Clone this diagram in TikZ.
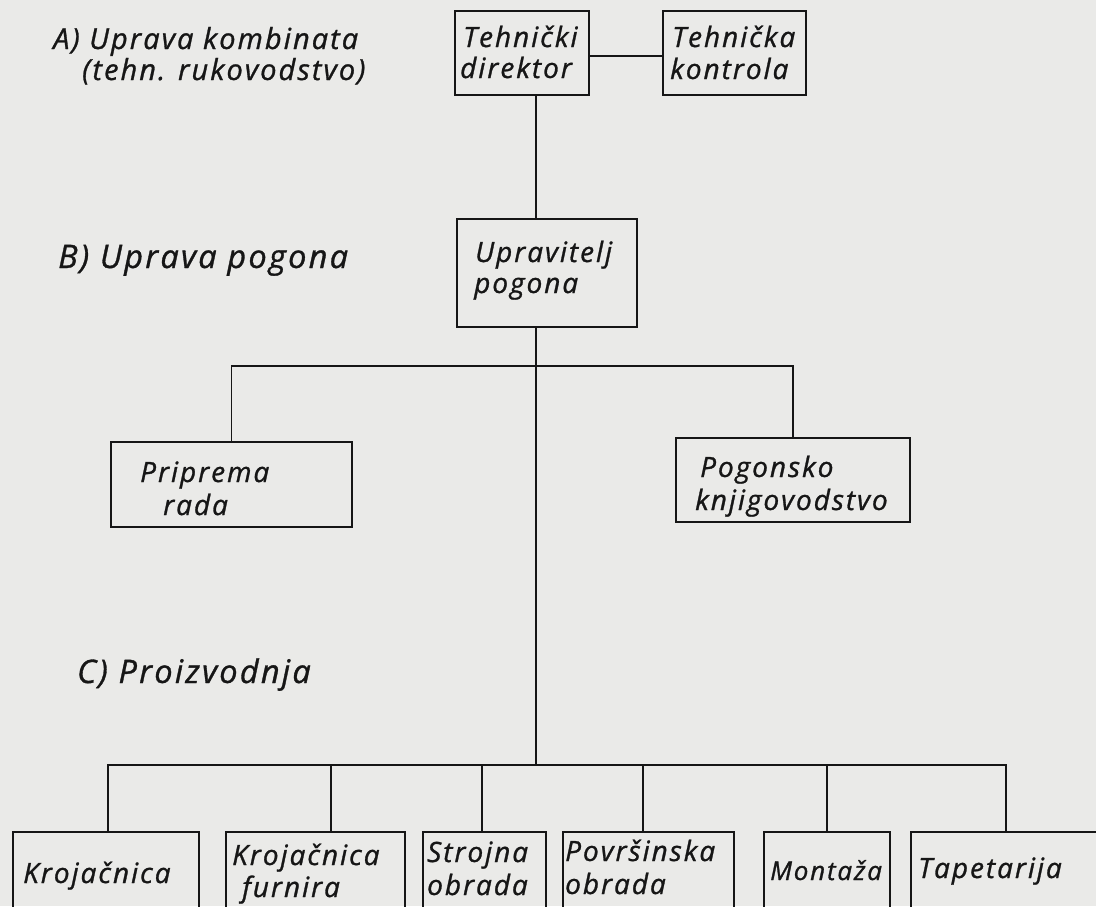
\documentclass[tikz,border=0pt]{standalone}
\usepackage{fontspec}
\setmainfont{Open Sans}
\newfontfamily\hand{Open Sans}[LetterSpace=7,FakeBold=1]
\definecolor{paper}{RGB}{234,234,232}
\definecolor{ink}{RGB}{22,22,22}
\begin{document}
\begin{tikzpicture}[x=1pt,y=-1pt,
  box/.style={draw=ink, line width=2.6pt, rectangle, inner sep=0pt},
  conn/.style={draw=ink, line width=1.6pt},
  lbl/.style={text=ink, inner sep=0pt, anchor=base west, font=\hand\itshape\fontsize{28}{30}\selectfont},
  lbla/.style={text=ink, inner sep=0pt, anchor=base west, font=\hand\itshape\fontsize{29}{32}\selectfont},
  lvl/.style={text=ink, inner sep=0pt, anchor=base west, font=\hand\itshape\fontsize{32.5}{35}\selectfont}]
\useasboundingbox (0,0) rectangle (1096,906);
\fill[paper] (0,0) rectangle (1096,906);
\clip (0,0) rectangle (1096,906);

% level labels
\node[lbla] (la1) at (53,49) {A) Uprava kombinata};
\node[lbla] (la2) at (82,80) {(tehn. rukovodstvo)};
\node[lvl] (lb) at (58,268) {B) Uprava pogona};
\node[lvl] (lc) at (77,683) {C) Proizvodnja};

% boxes
\node[box, minimum width=134pt, minimum height=84pt] (td) at (522,53) {};
\node[box, minimum width=143pt, minimum height=84pt] (tk) at (734.5,53) {};
\node[box, minimum width=180pt, minimum height=108pt] (up) at (547,273) {};
\node[box, minimum width=241pt, minimum height=85pt] (pr) at (231.5,484.5) {};
\node[box, minimum width=234pt, minimum height=84pt] (pk) at (793,480) {};
\node[box, minimum width=186pt, minimum height=108pt] (k1) at (106,886) {};
\node[box, minimum width=179pt, minimum height=108pt] (k2) at (315.5,886) {};
\node[box, minimum width=123pt, minimum height=108pt] (k3) at (484.5,886) {};
\node[box, minimum width=171pt, minimum height=108pt] (k4) at (648.5,886) {};
\node[box, minimum width=126pt, minimum height=108pt] (k5) at (827,886) {};
\node[box, minimum width=219pt, minimum height=108pt] (k6) at (1020.5,886) {};

% box texts
\node[lbl] (td1) at (463,47) {Tehnički};
\node[lbl] (td2) at (460,78) {direktor};
\node[lbl] (tk1) at (672,47) {Tehnička};
\node[lbl] (tk2) at (670,79) {kontrola};
\node[lbl] (up1) at (475,262) {Upravitelj};
\node[lbl] (up2) at (474,293) {pogona};
\node[lbl] (pr1) at (140,482) {Priprema};
\node[lbl] (pr2) at (163,515) {rada};
\node[lbl] (pk1) at (700,477) {Pogonsko};
\node[lbl] (pk2) at (695,510) {knjigovodstvo};
\node[lbl] (k1a) at (23,883) {Krojačnica};
\node[lbl] (k2a) at (232,865) {Krojačnica};
\node[lbl] (k2b) at (242,897) {furnira};
\node[lbl] (k3a) at (427,862) {Strojna};
\node[lbl] (k3b) at (427,895) {obrada};
\node[lbl] (k4a) at (565,861) {Površinska};
\node[lbl] (k4b) at (565,894) {obrada};
\node[lbl, font=\hand\itshape\fontsize{26}{30}\selectfont] (k5a) at (770,880) {Montaža};
\node[lbl] (k6a) at (918,878) {Tapetarija};

% connectors
\coordinate (sp) at (536,0);
\coordinate (bus1) at (536,366);
\coordinate (bus2) at (536,765);
\coordinate (c1) at (108,765);
\coordinate (c2) at (331,765);
\coordinate (c3) at (482,765);
\coordinate (c4) at (643,765);
\coordinate (c5) at (827,765);
\coordinate (c6) at (1006,765);

\draw[conn] ([yshift=-3pt]td.east) -- ([yshift=-3pt]tk.west);
\draw[conn] (td.south -| sp) -- (up.north -| sp);
\draw[conn] (up.south -| sp) -- (bus2);
\draw[conn] (pr.north) |- (bus1) -| (pk.north);
\draw[conn] (c1 |- k1.north) -- (c1) -- (c6) -- (c6 |- k6.north);
\draw[conn] (c2) -- (c2 |- k2.north);
\draw[conn] (c3) -- (c3 |- k3.north);
\draw[conn] (c4) -- (c4 |- k4.north);
\draw[conn] (c5) -- (c5 |- k5.north);
\end{tikzpicture}
\end{document}
